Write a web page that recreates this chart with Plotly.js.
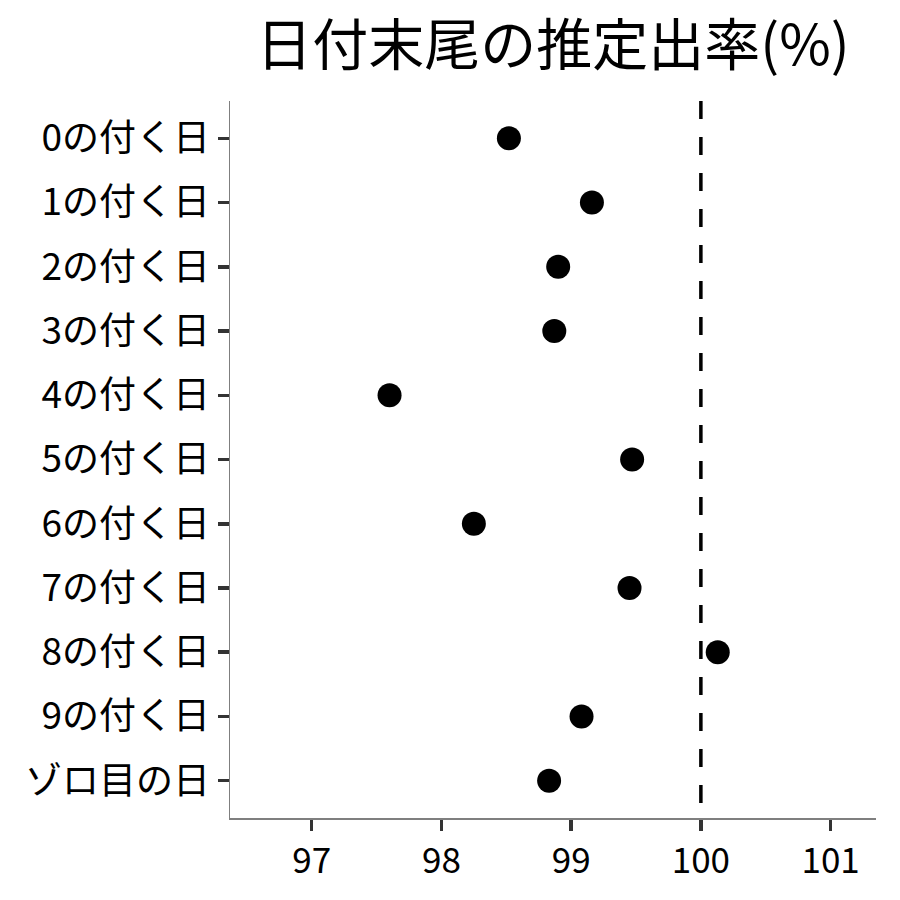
<!DOCTYPE html>
<html>
<head>
<meta charset="utf-8">
<script src="https://cdn.plot.ly/plotly-3.0.1.min.js"></script>
<style>html,body{margin:0;padding:0;background:#fff;}#chart{width:900px;height:900px;}</style>
</head>
<body>
<div id="chart"></div>
<script>
const categories = ["0の付く日","1の付く日","2の付く日","3の付く日","4の付く日","5の付く日","6の付く日","7の付く日","8の付く日","9の付く日","ゾロ目の日"];
const rates = [98.52, 99.16, 98.90, 98.87, 97.60, 99.47, 98.25, 99.45, 100.13, 99.08, 98.83];
const xTicks = [97, 98, 99, 100, 101];
const referenceRate = 100;
const titleText = "日付末尾の推定出率(%)";

const font = "Noto Sans CJK JP";

const trace = {
  type: "scatter",
  mode: "markers",
  x: rates,
  y: categories,
  marker: {color: "#000000", size: 24},
  hoverinfo: "x+y"
};

const layout = {
  width: 900,
  height: 900,
  margin: {l: 230, r: 24, t: 101, b: 82},
  paper_bgcolor: "#ffffff",
  plot_bgcolor: "#ffffff",
  showlegend: false,
  font: {family: font, color: "#000000"},
  title: {
    text: titleText,
    font: {family: font, size: 56, color: "#000000"},
    x: 0.5, xref: "paper", xanchor: "center",
    y: 1 - 45 / 900, yref: "container", yanchor: "middle"
  },
  xaxis: {
    range: [96.37, 101.35],
    tickvals: xTicks,
    ticktext: xTicks.map(String),
    showgrid: false,
    zeroline: false,
    showline: true,
    linecolor: "#7f7f7f",
    linewidth: 1.5,
    ticks: "outside",
    ticklen: 11,
    tickwidth: 3.5,
    tickcolor: "#333333",
    tickfont: {family: font, size: 35, color: "#000000"},
    ticklabelstandoff: 0
  },
  yaxis: {
    type: "category",
    categoryorder: "array",
    categoryarray: categories,
    range: [10.58, -0.58],
    showgrid: false,
    zeroline: false,
    showline: true,
    linecolor: "#7f7f7f",
    linewidth: 1.5,
    ticks: "outside",
    ticklen: 11,
    tickwidth: 3.5,
    tickcolor: "#333333",
    tickfont: {family: font, size: 37, color: "#000000"},
    ticklabelstandoff: 0
  },
  shapes: [{
    type: "line",
    xref: "x", yref: "paper",
    x0: referenceRate, x1: referenceRate, y0: 1, y1: 0,
    line: {color: "#000000", width: 3.5, dash: "18px,18px"}
  }]
};

Plotly.newPlot("chart", [trace], layout, {staticPlot: true});
</script>
</body>
</html>
